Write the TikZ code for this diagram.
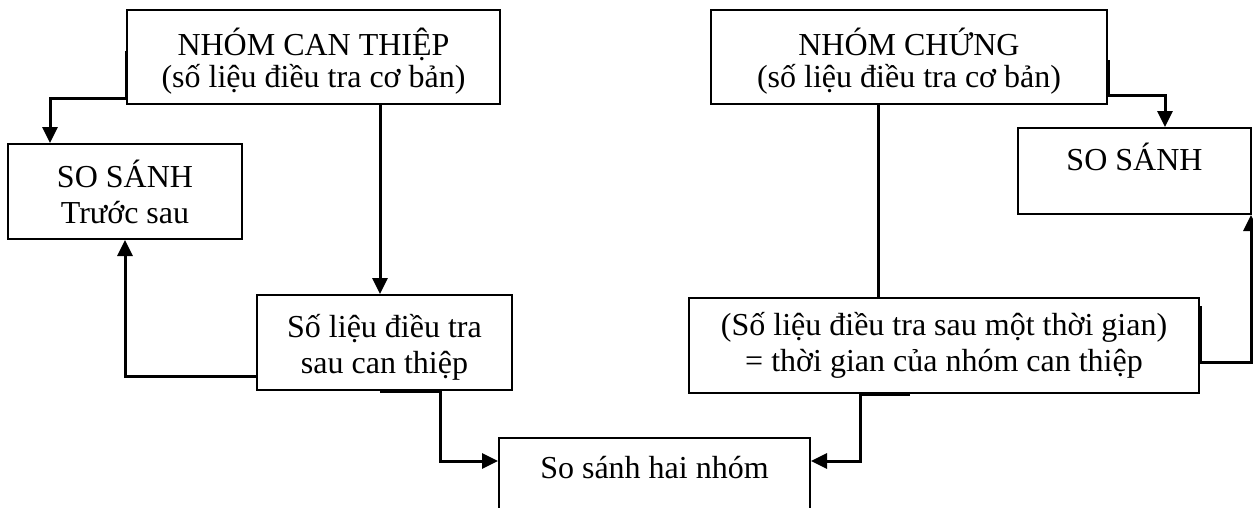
\documentclass[tikz,border=0pt]{standalone}
\usepackage{fontspec}
\setmainfont{Liberation Serif}
\usetikzlibrary{arrows.meta}

\begin{document}
\begin{tikzpicture}[
  x=1pt, y=-1pt,
  every node/.style={font=\fontsize{32}{36}\selectfont},
  box/.style={draw, line width=2pt, inner sep=0pt, align=center},
  conn/.style={line width=3pt},
  arr/.style={conn, -{Triangle[length=16pt,width=15pt]}}
]
\useasboundingbox (0,0) rectangle (1253,507);
\clip (0,0) rectangle (1253,507);

% intervention group
\node[box, minimum width=373pt, minimum height=94pt] (A) at (313.5,57)
  {\rule{0pt}{35pt}NHÓM CAN THIỆP\\[-4pt](số liệu điều tra cơ bản)};
\node[box, minimum width=234pt, minimum height=95pt] (B) at (125,191.5)
  {SO SÁNH\\Trước sau};
\node[box, minimum width=255pt, minimum height=95pt] (C) at (384.5,342.5)
  {\rule{0pt}{33pt}Số liệu điều tra\\sau can thiệp};

% comparison of both groups
\node[box, minimum width=311pt, text height=40pt, text depth=55pt] (D) at (654.5,485.5)
  {So sánh hai nhóm};

% control group
\node[box, minimum width=396pt, minimum height=94pt] (E) at (909,57)
  {\rule{0pt}{35pt}NHÓM CHỨNG\\[-4pt](số liệu điều tra cơ bản)};
\node[box, minimum width=233pt, text height=42pt, text depth=44pt] (G) at (1134.5,171)
  {SO SÁNH};
\node[box, minimum width=510pt, minimum height=95pt] (F) at (944,345.5)
  {(Số liệu điều tra sau một thời gian)\\= thời gian của nhóm can thiệp};

% connectors, left side
\draw[arr] ([yshift=-42pt]A.north west) -- ([yshift=7pt]A.south west)
  -| ([xshift=-75pt]B.north);
\draw[arr] ([xshift=-4.5pt]C.north |- A.south) -- ([xshift=-4.5pt]C.north);
\draw[arr] ([yshift=-33.5pt]C.west) -| (B.south);
\draw[arr] ([xshift=-4.5pt]C.south) -- ([xshift=55.5pt]C.south)
  |- ([yshift=24.5pt]D.west);

% connectors, right side
\draw[conn] ([xshift=-66pt]F.north |- E.south) -- ([xshift=-66pt]F.north);
\draw[arr] ([yshift=-3pt]E.east) -- ([yshift=10pt]E.south east)
  -| ([xshift=30.5pt]G.north);
\draw[arr] ([yshift=-9pt]F.north east) -- ([yshift=-16.5pt]F.east)
  -| ([xshift=-1pt]G.south east);
\draw[arr] ([xshift=-34pt]F.south) -- ([xshift=-84pt]F.south)
  |- ([yshift=24.5pt]D.east);
\end{tikzpicture}
\end{document}
